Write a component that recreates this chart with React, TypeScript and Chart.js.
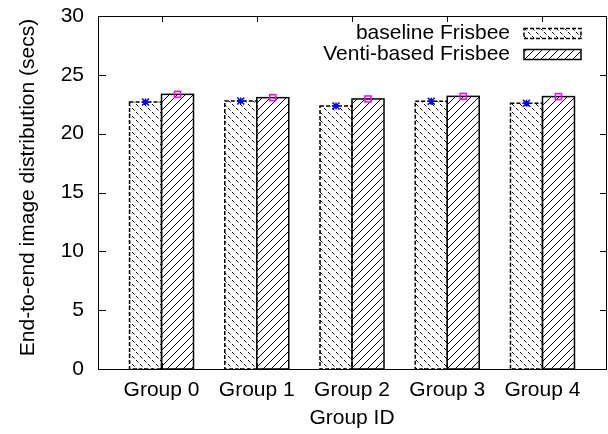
import React, { useEffect, useRef } from 'react';
import { Chart, registerables } from 'chart.js';
Chart.register(...registerables);

const categories = ['Group 0', 'Group 1', 'Group 2', 'Group 3', 'Group 4'];
const baselineValues = [22.69, 22.78, 22.35, 22.75, 22.58];
const ventiValues = [23.34, 23.06, 22.95, 23.17, 23.15];
const seriesNames = ['baseline Frisbee', 'Venti-based Frisbee'];
const yTickValues = [0, 5, 10, 15, 20, 25, 30];
const yTitle = 'End-to-end image distribution (secs)';
const xTitle = 'Group ID';

const FONT = '"Liberation Sans", Arial, Helvetica, sans-serif';
const FSIZE = 21;

function makePattern(kind: 'back' | 'fwd') {
  const s = 8;
  const c = document.createElement('canvas');
  c.width = s;
  c.height = s;
  const g = c.getContext('2d')!;
  g.fillStyle = '#fff';
  g.fillRect(0, 0, s, s);
  g.strokeStyle = '#000';
  g.lineWidth = 1;
  g.beginPath();
  if (kind === 'fwd') {
    for (const k of [-s, 0, s]) {
      g.moveTo(k - 1, s + 1);
      g.lineTo(k + s + 1, -1);
    }
    g.stroke();
  } else {
    const d = (s * Math.SQRT2) / 2;
    g.setLineDash([d * 0.62, d * 0.38]);
    g.moveTo(0, 0);
    g.lineTo(s, s);
    g.stroke();
  }
  return g.createPattern(c, 'repeat')!;
}

export default function App() {
  const ref = useRef<HTMLCanvasElement | null>(null);

  useEffect(() => {
    const canvas = ref.current;
    if (!canvas) return;
    const patBack = makePattern('back');
    const patFwd = makePattern('fwd');
    const fills = [patBack, patFwd];
    const dashes = [[4, 2], []];

    const decor = {
      id: 'gnuplotDecor',
      afterDatasetsDraw(chart: any) {
        const ctx = chart.ctx as CanvasRenderingContext2D;
        [0, 1].forEach((di) => {
          const meta = chart.getDatasetMeta(di);
          meta.data.forEach((el: any) => {
            const p = el.getProps(['x', 'y', 'base', 'width'], true);
            ctx.save();
            ctx.strokeStyle = '#000';
            ctx.lineWidth = 1.5;
            ctx.setLineDash(dashes[di]);
            ctx.strokeRect(p.x - p.width / 2, p.y, p.width, p.base - p.y);
            ctx.restore();
          });
        });
        const m0 = chart.getDatasetMeta(0);
        m0.data.forEach((el: any) => {
          const p = el.getProps(['x', 'y'], true);
          ctx.save();
          ctx.strokeStyle = '#0000ff';
          ctx.lineWidth = 1.5;
          const r = 3.5;
          ctx.beginPath();
          ctx.moveTo(p.x - r, p.y); ctx.lineTo(p.x + r, p.y);
          ctx.moveTo(p.x, p.y - r); ctx.lineTo(p.x, p.y + r);
          ctx.moveTo(p.x - r, p.y - r); ctx.lineTo(p.x + r, p.y + r);
          ctx.moveTo(p.x - r, p.y + r); ctx.lineTo(p.x + r, p.y - r);
          ctx.stroke();
          ctx.restore();
        });
        const m1 = chart.getDatasetMeta(1);
        m1.data.forEach((el: any) => {
          const p = el.getProps(['x', 'y'], true);
          ctx.save();
          ctx.strokeStyle = '#ff00ff';
          ctx.lineWidth = 1.5;
          ctx.strokeRect(p.x - 3, p.y - 3, 6, 6);
          ctx.restore();
        });
      },
      afterDraw(chart: any) {
        const ctx = chart.ctx as CanvasRenderingContext2D;
        const a = chart.chartArea;
        const xs = chart.scales.x;
        const ys = chart.scales.y;
        ctx.save();
        ctx.strokeStyle = '#000';
        ctx.lineWidth = 1;
        ctx.setLineDash([]);
        ctx.strokeRect(Math.round(a.left) + 0.5, Math.round(a.top) + 0.5, Math.round(a.right - a.left), Math.round(a.bottom - a.top));
        ctx.beginPath();
        yTickValues.forEach((v) => {
          const y = Math.round(ys.getPixelForValue(v)) + 0.5;
          ctx.moveTo(a.left, y); ctx.lineTo(a.left + 8, y);
          ctx.moveTo(a.right, y); ctx.lineTo(a.right - 6, y);
        });
        categories.forEach((_, i) => {
          const x = Math.round(xs.getPixelForValue(i)) + 0.5;
          ctx.moveTo(x, a.top); ctx.lineTo(x, a.top + 6);
          ctx.moveTo(x, a.bottom); ctx.lineTo(x, a.bottom - 6);
        });
        ctx.stroke();

        ctx.font = `${FSIZE}px ${FONT}`;
        ctx.fillStyle = '#000';

        ctx.save();
        ctx.translate(28, (a.top + a.bottom) / 2 - 5);
        ctx.rotate(-Math.PI / 2);
        ctx.textAlign = 'center';
        ctx.textBaseline = 'middle';
        ctx.fillText(yTitle, 0, 0);
        ctx.restore();

        ctx.textAlign = 'right';
        ctx.textBaseline = 'middle';
        const rows = [33.5, 54.5];
        seriesNames.forEach((name, i) => {
          const cy = rows[i];
          ctx.fillText(name, 510, cy);
          ctx.fillStyle = fills[i];
          ctx.fillRect(524, cy - 5, 57, 10);
          ctx.strokeStyle = '#000';
          ctx.lineWidth = 1.5;
          ctx.setLineDash(dashes[i]);
          ctx.strokeRect(524, cy - 5, 57, 10);
          ctx.setLineDash([]);
          ctx.fillStyle = '#000';
        });
        ctx.restore();
      },
    };

    const chart = new Chart(canvas, {
      type: 'bar',
      data: {
        datasets: [
          {
            label: seriesNames[0],
            data: baselineValues.map((v, i) => ({ x: i, y: v })),
            backgroundColor: patBack as any,
            borderWidth: 0,
          },
          {
            label: seriesNames[1],
            data: ventiValues.map((v, i) => ({ x: i, y: v })),
            backgroundColor: patFwd as any,
            borderWidth: 0,
          },
        ],
      },
      options: {
        animation: false,
        responsive: false,
        maintainAspectRatio: false,
        categoryPercentage: 0.672,
        barPercentage: 1,
        layout: { padding: { top: 16, right: 2, left: 0, bottom: 0 } },
        plugins: { legend: { display: false }, tooltip: { enabled: false } },
        scales: {
          x: {
            type: 'linear',
            offset: false,
            min: -0.667,
            max: 4.667,
            grid: { display: false, drawTicks: false, offset: false },
            border: { display: false },
            afterBuildTicks: (s: any) => {
              s.ticks = categories.map((_, i) => ({ value: i }));
            },
            afterFit: (s: any) => {
              s.height = 65;
              s.paddingLeft = 0;
              s.paddingRight = 0;
            },
            ticks: {
              autoSkip: false,
              maxRotation: 0,
              padding: 9,
              color: '#000',
              font: { family: FONT, size: FSIZE },
              callback: (v: any) => categories[v as number] ?? '',
            },
            title: {
              display: true,
              text: xTitle,
              color: '#000',
              font: { family: FONT, size: FSIZE },
              padding: { top: 0, bottom: 3 },
            },
          },
          y: {
            min: 0,
            max: 30,
            grid: { display: false, drawTicks: false },
            border: { display: false },
            afterBuildTicks: (s: any) => {
              s.ticks = yTickValues.map((v) => ({ value: v }));
            },
            afterFit: (s: any) => {
              s.width = 98;
              s.paddingTop = 0;
              s.paddingBottom = 0;
            },
            ticks: {
              padding: 14,
              color: '#000',
              font: { family: FONT, size: FSIZE },
            },
          },
        },
      } as any,
      plugins: [decor],
    });
    return () => chart.destroy();
  }, []);

  return (
    <div style={{ position: 'fixed', left: 0, top: 0, width: 608, height: 434, background: '#fff' }}>
      <canvas ref={ref} width={608} height={434} />
    </div>
  );
}
